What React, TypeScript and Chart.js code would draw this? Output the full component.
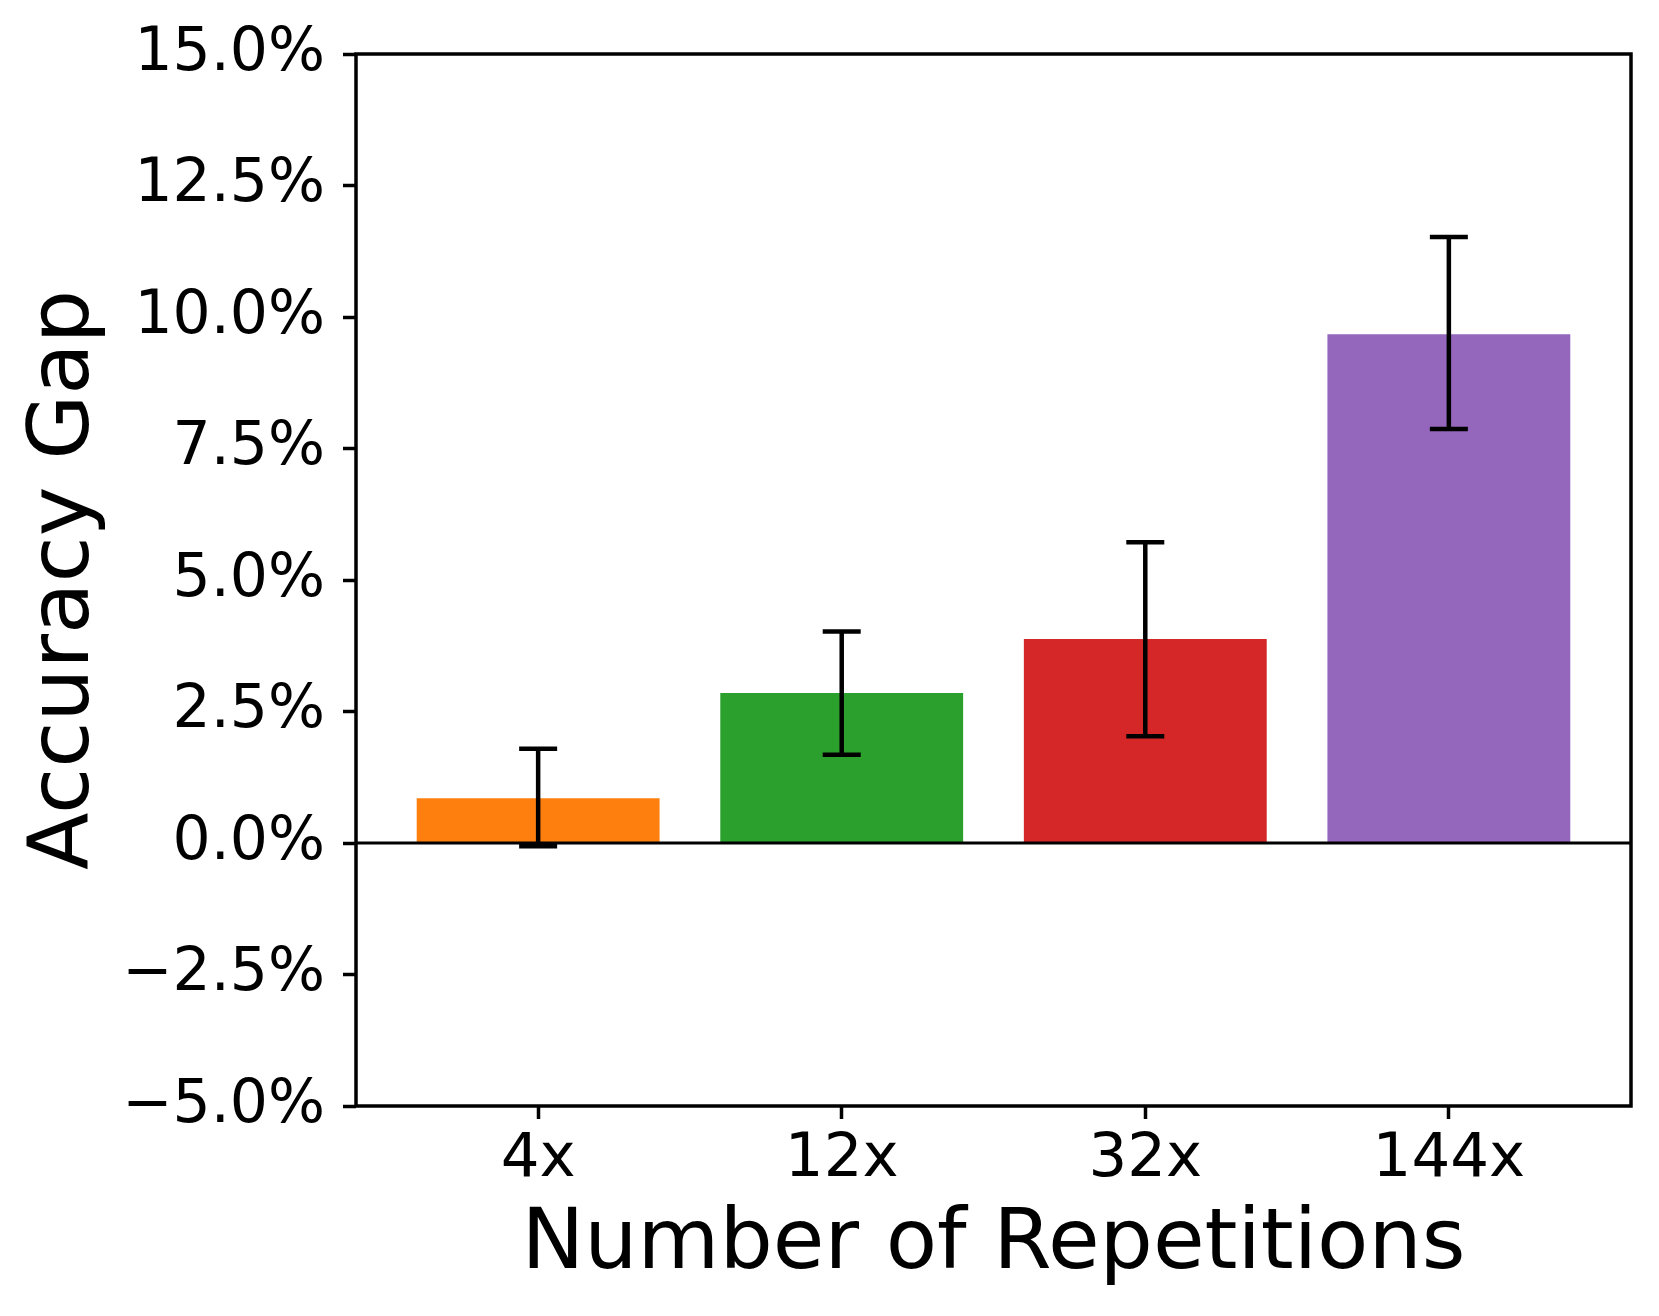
import React, { useEffect, useRef } from "react";
import { Chart, registerables } from "chart.js";

Chart.register(...registerables);

const categories = ["4x", "12x", "32x", "144x"];
const gapValues = [0.85, 2.85, 3.88, 9.67];
const errLow = [-0.06, 1.68, 2.03, 7.87];
const errHigh = [1.79, 4.02, 5.72, 11.52];
const barColors = ["#ff7f0e", "#2ca02c", "#d62728", "#9467bd"];
const yTicks = [-5, -2.5, 0, 2.5, 5, 7.5, 10, 12.5, 15];

const FONT = "'DejaVu Sans', 'Liberation Sans', sans-serif";

const overlayPlugin = {
  id: "overlay",
  afterDatasetsDraw(chart: any) {
    const { ctx, chartArea, scales } = chart;
    const xs = scales.x;
    const ys = scales.y;
    ctx.save();
    ctx.strokeStyle = "#000";
    ctx.lineWidth = 3;
    const y0 = ys.getPixelForValue(0);
    ctx.beginPath();
    ctx.moveTo(chartArea.left, y0);
    ctx.lineTo(chartArea.right, y0);
    ctx.stroke();
    ctx.lineWidth = 4.5;
    const cap = 19;
    for (let i = 0; i < categories.length; i++) {
      const px = xs.getPixelForValue(i);
      const pLo = ys.getPixelForValue(errLow[i]);
      const pHi = ys.getPixelForValue(errHigh[i]);
      ctx.beginPath();
      ctx.moveTo(px, pLo);
      ctx.lineTo(px, pHi);
      ctx.moveTo(px - cap, pLo);
      ctx.lineTo(px + cap, pLo);
      ctx.moveTo(px - cap, pHi);
      ctx.lineTo(px + cap, pHi);
      ctx.stroke();
    }
    ctx.lineWidth = 3.5;
    ctx.strokeRect(
      chartArea.left,
      chartArea.top,
      chartArea.right - chartArea.left,
      chartArea.bottom - chartArea.top
    );
    ctx.restore();
  },
};

export default function App() {
  const canvasRef = useRef<HTMLCanvasElement | null>(null);

  useEffect(() => {
    const canvas = canvasRef.current;
    if (!canvas) return;
    const chart = new Chart(canvas, {
      type: "bar",
      data: {
        datasets: [
          {
            data: gapValues.map((v, i) => ({ x: i, y: v })),
            backgroundColor: barColors,
            borderWidth: 0,
            categoryPercentage: 0.8,
            barPercentage: 1.0,
          },
        ],
      },
      options: {
        responsive: false,
        animation: false,
        devicePixelRatio: 1,
        layout: { padding: { top: 48, right: 28, left: 0, bottom: 0 } },
        plugins: {
          legend: { display: false },
          tooltip: { enabled: false },
        },
        scales: {
          x: {
            type: "linear",
            min: -0.6,
            max: 3.6,
            offset: false,
            afterFit: (scale: any) => {
              scale.height = 210;
            },
            afterBuildTicks: (scale: any) => {
              scale.ticks = categories.map((_, i) => ({ value: i }));
            },
            ticks: {
              callback: (v: any) => categories[Math.round(Number(v))] ?? "",
              font: { family: FONT, size: 61 },
              color: "#000",
              padding: 5,
              maxRotation: 0,
              autoSkip: false,
            },
            grid: {
              offset: false,
              drawOnChartArea: false,
              drawTicks: true,
              tickLength: 13,
              tickWidth: 3.5,
              tickColor: "#000",
            },
            border: { display: false },
            title: {
              display: true,
              text: "Number of Repetitions",
              font: { family: FONT, size: 84 },
              color: "#000",
              padding: { top: 0, bottom: 19 },
            },
          },
          y: {
            type: "linear",
            min: -5,
            max: 15,
            afterFit: (scale: any) => {
              scale.width = 356;
            },
            afterBuildTicks: (scale: any) => {
              scale.ticks = yTicks.map((v) => ({ value: v }));
            },
            ticks: {
              callback: (v: any) => {
                const n = Number(v);
                const s = Math.abs(n).toFixed(1) + "%";
                return n < 0 ? "\u2212" + s : s;
              },
              font: { family: FONT, size: 60 },
              color: "#000",
              padding: 18,
            },
            grid: {
              drawOnChartArea: false,
              drawTicks: true,
              tickLength: 13,
              tickWidth: 3.5,
              tickColor: "#000",
            },
            border: { display: false },
            title: {
              display: true,
              text: "Accuracy Gap",
              font: { family: FONT, size: 84 },
              color: "#000",
              padding: { top: 16, bottom: 0 },
            },
          },
        },
      },
      plugins: [overlayPlugin],
    });
    return () => chart.destroy();
  }, []);

  return (
    <div style={{ position: "absolute", left: 0, top: 0, width: 1659, height: 1316, background: "#fff" }}>
      <canvas ref={canvasRef} width={1659} height={1316} style={{ width: 1659, height: 1316 }} />
    </div>
  );
}
